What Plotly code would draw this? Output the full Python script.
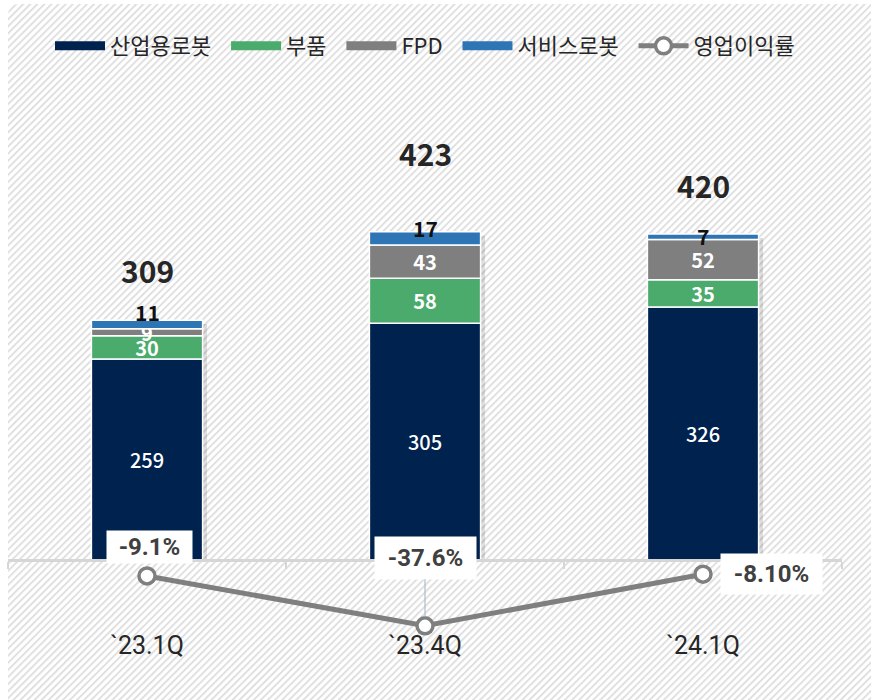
import base64
import numpy as np
import plotly.graph_objects as go

# ---------------- data ----------------
categories = ["`23.1Q", "`23.4Q", "`24.1Q"]
industrial = [259, 305, 326]      # 산업용로봇
parts = [30, 58, 35]              # 부품
fpd = [9, 43, 52]                 # FPD
service = [11, 17, 7]             # 서비스로봇
totals = [309, 423, 420]
op_margin = [-9.1, -37.6, -8.1]   # 영업이익률 (%)
op_margin_labels = ["-9.1%", "-37.6%", "-8.10%"]

series_names = ["산업용로봇", "부품", "FPD", "서비스로봇"]
series_values = [industrial, parts, fpd, service]
series_colors = ["#00224f", "#4aab6d", "#7f7f7f", "#2e75b6"]
label_colors = ["white", "white", "white", "rgba(0,0,0,0)"]
label_weights = [500, "bold", "bold", "bold"]

# ---------------- layout geometry ----------------
W, H = 871, 700
ML, MR, MT, MB = 8, 29, 80, 10
plot_h = H - MT - MB
zero_px = 560
px_per_unit = 0.776
px_per_pct = 1.75
y1_range = [-(H - MB - zero_px) / px_per_unit, (zero_px - MT) / px_per_unit]
y2_range = [-(H - MB - zero_px) / px_per_pct, (zero_px - MT) / px_per_pct]
axis_pos = (H - MB - zero_px) / plot_h

fig = go.Figure()

# bar shadows
vals = np.array(series_values, dtype=float)
tot = vals.sum(axis=0)
fig.add_trace(go.Bar(
    x=categories, y=tot - 5, base=0, width=0.4, offset=-0.2 + 0.016,
    marker=dict(color="rgba(0,0,0,0.13)", line=dict(width=0)),
    showlegend=False, hoverinfo="skip"))

bases = np.vstack([np.zeros(3), np.cumsum(vals, axis=0)[:-1]])
for name, v, b, c, lc, lw in zip(series_names, series_values, bases, series_colors,
                                  label_colors, label_weights):
    fig.add_trace(go.Bar(
        x=categories, y=v, base=b, name=name, width=0.4, offset=-0.2,
        marker=dict(color=c, line=dict(color="white", width=1.5)),
        text=[str(t) for t in v], textposition="inside", insidetextanchor="middle",
        textangle=0, constraintext="none",
        textfont=dict(color=lc, size=20, family="Noto Sans CJK KR", weight=lw),
        showlegend=False, hoverinfo="skip"))

# legend entries (wide colour keys)
for name, c in zip(series_names, series_colors):
    fig.add_trace(go.Scatter(x=[None], y=[None], mode="lines", name=name + "\u00a0\u00a0",
                             line=dict(color=c, width=9)))

# operating margin line
fig.add_trace(go.Scatter(
    x=categories, y=op_margin, yaxis="y2", name="영업이익률",
    mode="lines+markers", cliponaxis=False,
    line=dict(color="#7f7f7f", width=5),
    marker=dict(size=16, color="white", line=dict(color="#7f7f7f", width=3.5)),
    hoverinfo="skip"))

annotations = []
# totals above bars
total_shift = [50, 79, 49]
for cat, t, s in zip(categories, totals, total_shift):
    annotations.append(dict(x=cat, y=t, xref="x", yref="y", text=f"<b>{t}</b>",
                            showarrow=False, yshift=s,
                            font=dict(size=30, color="#262626", family="Noto Sans CJK KR")))
# service-robot labels (outside, black)
service_shift = [8, 4, -2]
for cat, t, v, s in zip(categories, totals, service, service_shift):
    annotations.append(dict(x=cat, y=t, xref="x", yref="y", text=f"<b>{v}</b>",
                            showarrow=False, yshift=s,
                            font=dict(size=21, color="#111111", family="Noto Sans CJK KR")))
# margin labels
lab_xshift = [2, 0, 68]
lab_yshift = [29, 0, 0]
lab_arrow = [False, True, False]
lab_w = [85, 101, 101]
lab_h = [32, 42, 40]
for cat, m, txt, xs, ys, ar, w, h in zip(categories, op_margin, op_margin_labels,
                                         lab_xshift, lab_yshift, lab_arrow, lab_w, lab_h):
    a = dict(x=cat, y=m, xref="x", yref="y2", text=f"<b>{txt}</b>",
             bgcolor="white", width=w, height=h, borderpad=0,
             font=dict(size=24, color="#404040", family="Roboto"))
    if ar:
        a.update(showarrow=True, arrowhead=0, ax=0, ay=-68, arrowcolor="#aebbcc",
                 arrowwidth=1.2, standoff=9)
    else:
        a.update(showarrow=False, xshift=xs, yshift=ys)
    annotations.append(a)

# hatched background
svg = f'''<svg xmlns="http://www.w3.org/2000/svg" width="{W - 8}" height="{H}">
<defs><pattern id="p" width="5" height="10" patternUnits="userSpaceOnUse" patternTransform="rotate(45)">
<rect x="0" y="0" width="1.7" height="10" fill="#dcdcdc"/></pattern></defs>
<rect x="0" y="0" width="{W + 20}" height="{H + 20}" rx="10" ry="10" fill="url(#p)"/>
</svg>'''
src = "data:image/svg+xml;base64," + base64.b64encode(svg.encode()).decode()
img_x0 = (8 - ML) / (W - ML - MR)
img_y0 = (H - MB - 4) / plot_h

fig.update_layout(
    width=W, height=H,
    margin=dict(l=ML, r=MR, t=MT, b=MB, autoexpand=False),
    paper_bgcolor="white", plot_bgcolor="rgba(0,0,0,0)",
    barmode="overlay",
    font=dict(family="Noto Sans CJK KR", color="#262626"),
    images=[dict(source=src, xref="paper", yref="paper", x=img_x0, y=img_y0,
                 sizex=(W - 8) / (W - ML - MR), sizey=H / plot_h,
                 xanchor="left", yanchor="top", sizing="stretch", layer="below")],
    xaxis=dict(anchor="free", position=axis_pos, showline=True, linecolor="#d6d6d6",
               linewidth=3, ticks="outside", tickson="boundaries", ticklen=7,
               tickcolor="#d6d6d6", tickwidth=1.5, showgrid=False,
               ticklabelstandoff=62, automargin=False,
               tickfont=dict(size=25, color="#262626", family="Roboto")),
    yaxis=dict(range=y1_range, visible=False, showgrid=False, zeroline=False,
               automargin=False),
    yaxis2=dict(range=y2_range, overlaying="y", anchor="x", side="right",
                visible=False, showgrid=False, zeroline=False, automargin=False),
    legend=dict(orientation="h", xref="container", yref="container",
                x=50 / W, y=1 - 25 / H, xanchor="left", yanchor="top",
                itemwidth=50, bgcolor="rgba(0,0,0,0)",
                font=dict(size=22, color="#262626", family="Noto Sans CJK KR"),
                itemclick=False, itemdoubleclick=False),
    annotations=annotations,
    showlegend=True,
)

fig.write_html("out.html", config={"displayModeBar": False},
               post_script="document.body.style.margin='0';document.body.style.padding='0';")
